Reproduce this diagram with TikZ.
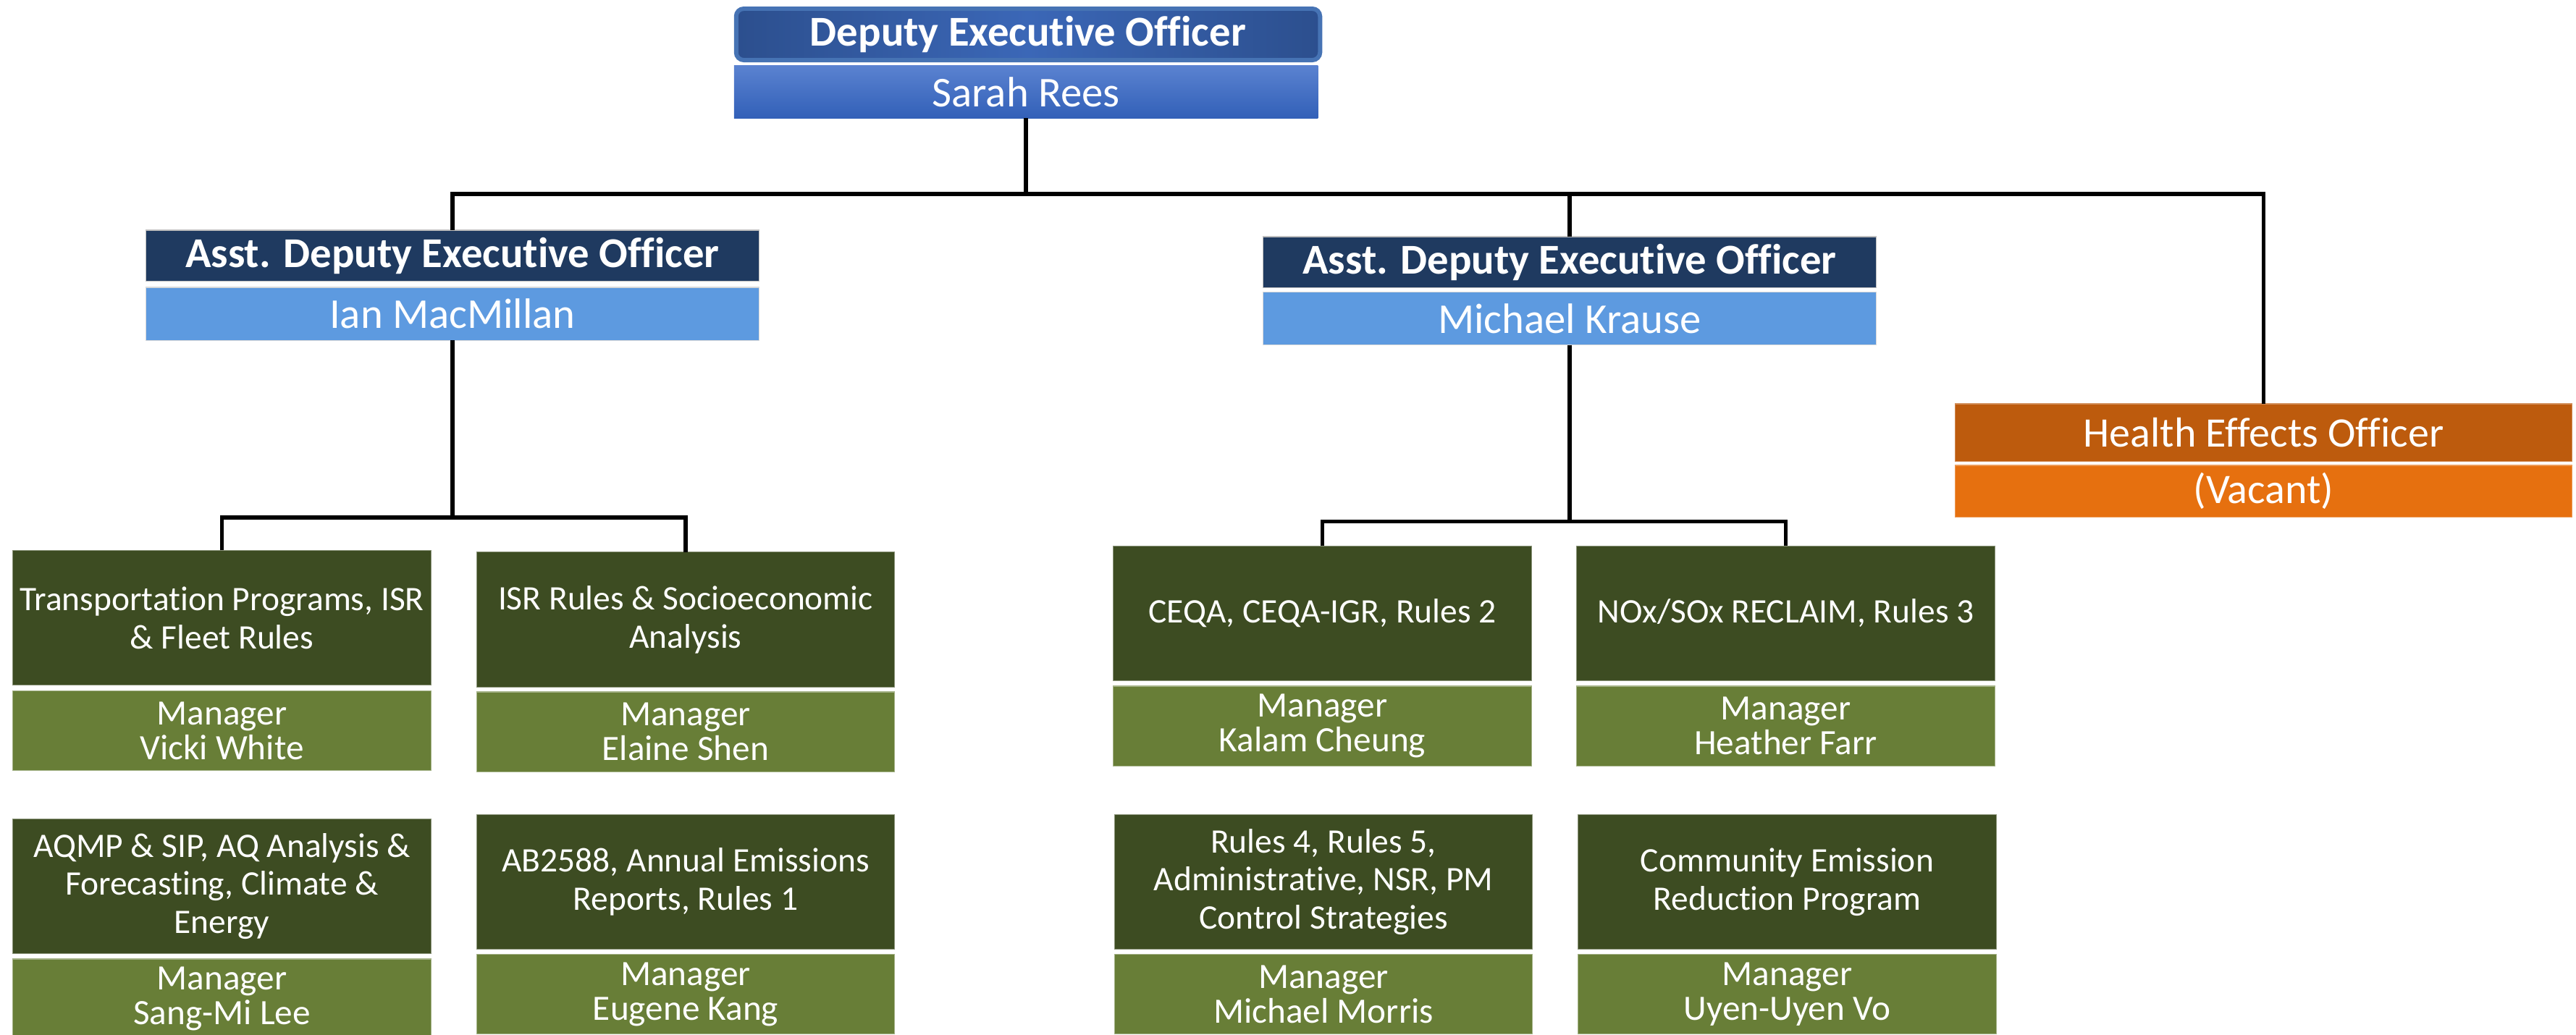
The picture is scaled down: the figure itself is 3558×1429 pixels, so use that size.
\documentclass[tikz,border=0pt]{standalone}
\usepackage{xcolor}
\usepackage{fontspec}
\setmainfont{Carlito}[Ligatures=NoCommon]
\usepackage{tikz}
\usetikzlibrary{shapes.misc, backgrounds}

\definecolor{deoedge}{HTML}{4673B4}
\definecolor{deodark}{HTML}{2C4F8E}
\definecolor{deomid}{HTML}{3B67B7}
\definecolor{nametop}{HTML}{5A82D0}
\definecolor{namebot}{HTML}{3260B8}
\definecolor{adeodark}{HTML}{1F3A60}
\definecolor{adeolight}{HTML}{5D9AE0}
\definecolor{taskdark}{HTML}{3D4C22}
\definecolor{mgrgreen}{HTML}{687E37}
\definecolor{healthdark}{HTML}{BD5B0D}
\definecolor{healthlight}{HTML}{E6700F}

\tikzset{
    box/.style={rectangle, inner sep=0pt, outer sep=0pt, align=center, text=white},
    deotitle/.style={box, rounded corners=3pt, draw=deoedge, line width=1.7pt,
        left color=deodark, right color=deodark, middle color=deomid,
        minimum width=8.06cm, minimum height=0.71cm,
        font=\fontsize{16.7pt}{18pt}\selectfont\bfseries},
    deoname/.style={box, top color=nametop, bottom color=namebot,
        minimum width=8.06cm, minimum height=0.72cm,
        font=\fontsize{16.7pt}{18pt}\selectfont},
    adeotitle/.style={box, fill=adeodark, draw=gray!50, line width=0.3pt,
        minimum width=8.46cm, minimum height=0.70cm,
        font=\fontsize{16.7pt}{18pt}\selectfont\bfseries},
    adeoname/.style={box, fill=adeolight, draw=gray!30, line width=0.3pt,
        minimum width=8.46cm, minimum height=0.73cm,
        font=\fontsize{16.7pt}{18pt}\selectfont},
    healthtitle/.style={box, fill=healthdark, draw=healthdark!70!white, line width=0.3pt,
        minimum width=8.51cm, minimum height=0.79cm,
        font=\fontsize{16.5pt}{18pt}\selectfont},
    healthname/.style={box, fill=healthlight, draw=healthlight!70!white, line width=0.3pt,
        minimum width=8.51cm, minimum height=0.71cm,
        font=\fontsize{16.5pt}{18pt}\selectfont},
    taskbox/.style={box, fill=taskdark, draw=taskdark!60!white, line width=0.3pt,
        minimum width=5.77cm, minimum height=1.86cm,
        font=\fontsize{13.5pt}{15pt}\selectfont},
    mgrbox/.style={box, fill=mgrgreen, draw=mgrgreen!60!white, line width=0.3pt,
        minimum width=5.77cm, minimum height=1.10cm,
        font=\fontsize{14pt}{13.6pt}\selectfont},
    link/.style={draw=black, line width=1.6pt}
}

\begin{document}
\begin{tikzpicture}[x=0.01cm, y=-0.01cm]
    \useasboundingbox (0,0) rectangle (3558,1429);
    \fill[white] (0,0) rectangle (3558,1429);

    % top
    \node[deotitle] (deo) at (1420,47.5) {Deputy Executive Officer};
    \node[deoname] (deoname) at (1417,127) {Sarah Rees};

    % assistants
    \node[adeotitle] (adeoL) at (625,353) {Asst. Deputy Executive Officer};
    \node[adeoname] (adeoLname) at (625,433.5) {Ian MacMillan};
    \node[adeotitle] (adeoR) at (2168,362) {Asst. Deputy Executive Officer};
    \node[adeoname] (adeoRname) at (2168,440) {Michael Krause};

    \node[healthtitle] (health) at (3126.5,597.5) {Health Effects Officer};
    \node[healthname] (healthname) at (3126.5,678.5) {(Vacant)};

    % left group
    \node[taskbox] (taskA) at (306.5,853.5) {Transportation Programs, ISR\\\& Fleet Rules};
    \node[mgrbox] (mgrA) at (306.5,1009.5) {Manager\\Vicki White};
    \node[taskbox] (taskB) at (947,856) {ISR Rules \& Socioeconomic\\Analysis};
    \node[mgrbox] (mgrB) at (947,1011) {Manager\\Elaine Shen};
    \node[taskbox] (taskC) at (306.5,1224.5) {AQMP \& SIP, AQ Analysis \&\\Forecasting, Climate \&\\Energy};
    \node[mgrbox] (mgrC) at (306.5,1380) {Manager\\Sang-Mi Lee};
    \node[taskbox] (taskD) at (947,1218.5) {AB2588, Annual Emissions\\Reports, Rules 1};
    \node[mgrbox] (mgrD) at (947,1373.5) {Manager\\Eugene Kang};

    % right group
    \node[taskbox] (taskE) at (1826.5,847.5) {CEQA, CEQA-IGR, Rules 2};
    \node[mgrbox] (mgrE) at (1826.5,1003) {Manager\\Kalam Cheung};
    \node[taskbox] (taskF) at (2466.5,847.5) {NOx/SOx RECLAIM, Rules 3};
    \node[mgrbox] (mgrF) at (2466.5,1003) {Manager\\Heather Farr};
    \node[taskbox] (taskG) at (1828,1218.5) {Rules 4, Rules 5,\\Administrative, NSR, PM\\Control Strategies};
    \node[mgrbox] (mgrG) at (1828,1373.5) {Manager\\Michael Morris};
    \node[taskbox] (taskH) at (2468.5,1218.5) {Community Emission\\Reduction Program};
    \node[mgrbox] (mgrH) at (2468.5,1373.5) {Manager\\Uyen-Uyen Vo};

    % lines
    \draw[link] (deoname.south) -- ++(0,105) coordinate (bus);
    \draw[link] (adeoL.north) |- (bus) -| (health.north);
    \draw[link] (bus -| adeoR.north) -- (adeoR.north);
    \draw[link] (adeoLname.south) -- ++(0,245) coordinate (forkL);
    \draw[link] (taskA.north) |- (forkL) -| (taskB.north);
    \draw[link] (adeoRname.south) -- ++(0,244) coordinate (forkR);
    \draw[link] (taskE.north) |- (forkR) -| (taskF.north);
\end{tikzpicture}
\end{document}
